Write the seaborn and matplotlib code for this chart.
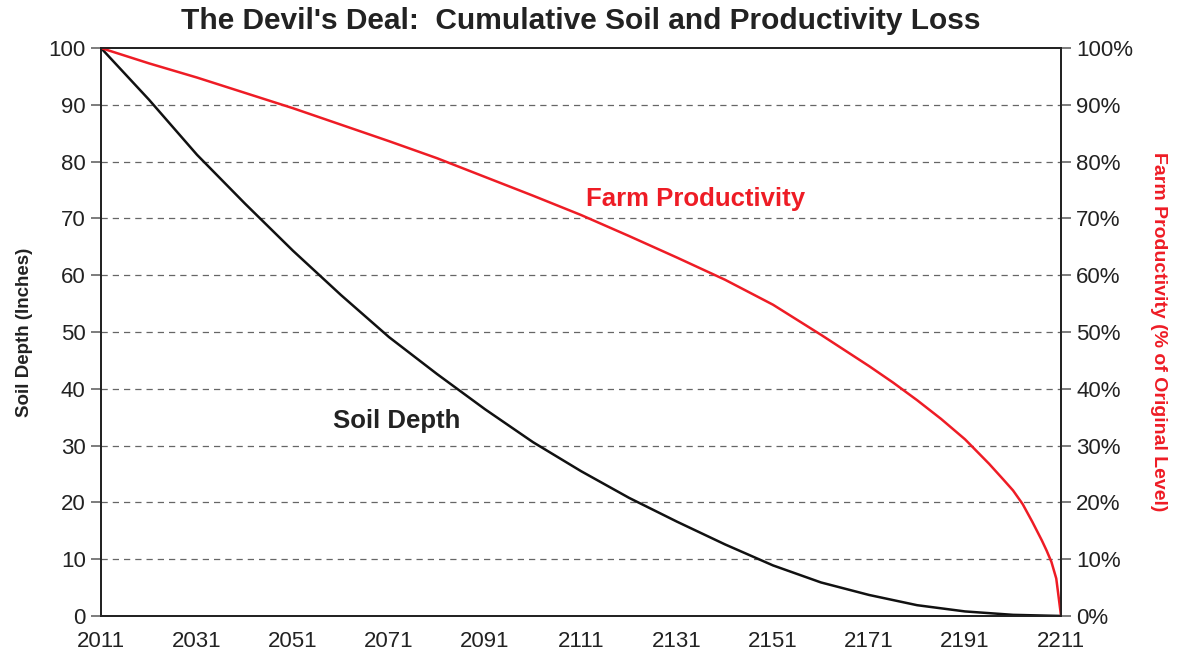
import pandas as pd
import numpy as np
import matplotlib.pyplot as plt
import seaborn as sns
from matplotlib.ticker import PercentFormatter

years_soil = [2011, 2021, 2031, 2041, 2051, 2061, 2071, 2081, 2091, 2101, 2111,
              2121, 2131, 2141, 2151, 2161, 2171, 2181, 2191, 2201, 2211]
soil_depth = [100, 90.9, 81.2, 72.6, 64.3, 56.5, 49.1, 42.6, 36.4, 30.6, 25.5,
              20.8, 16.6, 12.6, 8.9, 5.9, 3.7, 1.9, 0.8, 0.2, 0]

years_farm = [2011, 2021, 2031, 2041, 2051, 2061, 2071, 2081, 2091, 2101, 2111,
              2121, 2131, 2141, 2151, 2161, 2171, 2176, 2181, 2186, 2191, 2196,
              2199, 2201, 2203, 2205, 2207, 2208, 2209, 2210, 2211]
farm_prod = [100, 97.3, 94.8, 92.1, 89.4, 86.5, 83.6, 80.6, 77.3, 74.0, 70.6,
             66.9, 63.1, 59.2, 54.8, 49.5, 44.0, 41.1, 38.0, 34.7, 31.1, 26.8,
             24.0, 22.1, 19.7, 16.6, 13.3, 11.5, 9.5, 6.6, 0]

x_ticks = list(range(2011, 2212, 20))

soil_df = pd.DataFrame({"Year": years_soil, "Soil": soil_depth})
farm_df = pd.DataFrame({"Year": years_farm, "Farm": farm_prod})

sns.set_style("white")
plt.rcParams["font.family"] = ["Liberation Sans", "DejaVu Sans"]

fig = plt.figure(figsize=(11.8, 6.67), dpi=100)
ax = fig.add_axes([0.0856, 0.0765, 0.8136, 0.8515])

# dashed horizontal gridlines
for y in range(10, 100, 10):
    ax.axhline(y, color="#666666", linestyle=(0, (5, 4)), linewidth=0.9, zorder=0)

sns.lineplot(data=soil_df, x="Year", y="Soil", color="#111111", linewidth=1.8, ax=ax)

ax2 = ax.twinx()
sns.lineplot(data=farm_df, x="Year", y="Farm", color="#ee1c25", linewidth=1.8, ax=ax2)

ax.set_xlim(2011, 2211)
ax.set_ylim(0, 100)
ax2.set_ylim(0, 100)
ax.set_xticks(x_ticks)
ax.set_yticks(range(0, 101, 10))
ax2.set_yticks(range(0, 101, 10))
ax2.yaxis.set_major_formatter(PercentFormatter(decimals=0))

for a in (ax, ax2):
    a.tick_params(axis="both", direction="out", length=7, width=1.2,
                  labelsize=16, color="#666666", labelcolor="#222222", pad=4)
    for s in a.spines.values():
        s.set_color("#222222")
        s.set_linewidth(1.3)

ax.set_xlabel("")
ax.set_ylabel("Soil Depth (Inches)", fontsize=13.5, fontweight="bold", color="#222222", labelpad=11)
ax2.set_ylabel("Farm Productivity (% of Original Level)", fontsize=14, fontweight="bold",
               color="#ee1c25", rotation=270, labelpad=24)

ax.text(2134.8, 73.4, "Farm Productivity", fontsize=18.5, fontweight="bold",
        color="#ee1c25", ha="center", va="center")
ax.text(2072.7, 34.3, "Soil Depth", fontsize=18.5, fontweight="bold",
        color="#222222", ha="center", va="center")

fig.suptitle("The Devil's Deal:  Cumulative Soil and Productivity Loss", x=0.492, y=0.99,
             fontsize=21.5, fontweight="bold", color="#222222", va="top")

fig.savefig("out.png", dpi=100)
